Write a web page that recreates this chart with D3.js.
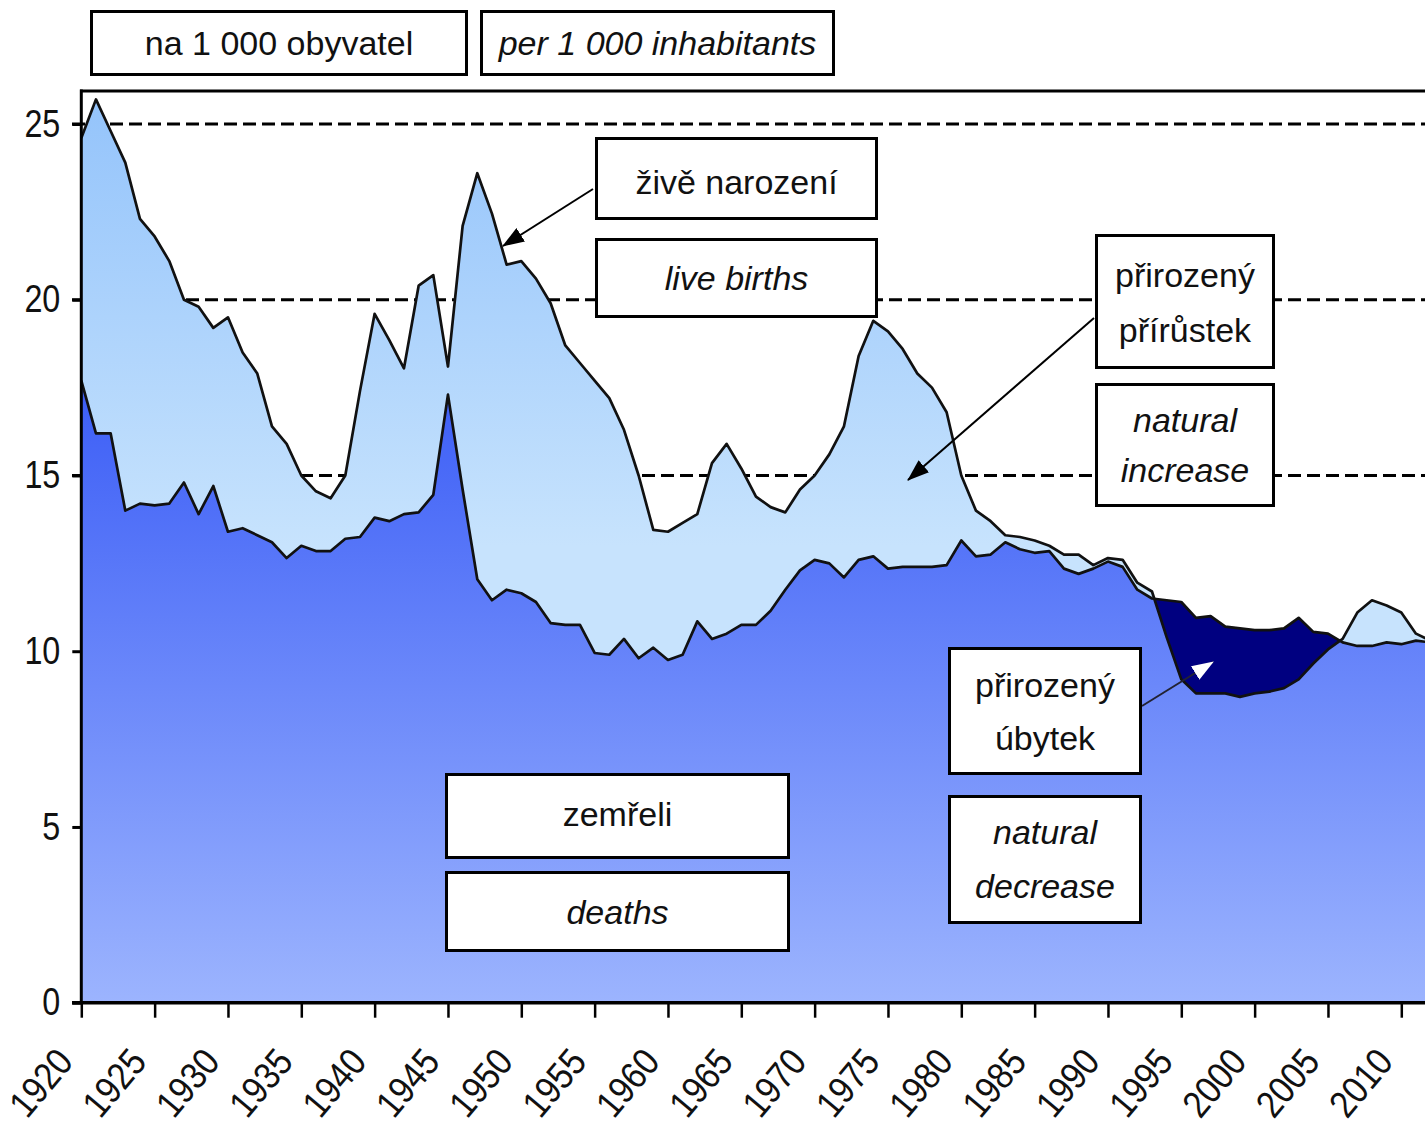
<!DOCTYPE html>
<html>
<head>
<meta charset="utf-8">
<script src="https://cdn.jsdelivr.net/npm/d3@7"></script>
<style>
  body { margin: 0; background: #fff; }
  svg { display: block; }
  .box rect { fill: #fff; stroke: #000; stroke-width: 3; }
  .box text { font-family: "Liberation Sans", Arial, sans-serif; font-size: 34px; fill: #111; text-anchor: middle; }
  .axis text { font-family: "Liberation Sans", Arial, sans-serif; font-size: 38px; fill: #111; }
</style>
</head>
<body>
<script>
// per 1 000 inhabitants, Czech lands
const years = [1920,1921,1922,1923,1924,1925,1926,1927,1928,1929,
  1930,1931,1932,1933,1934,1935,1936,1937,1938,1939,
  1940,1941,1942,1943,1944,1945,1946,1947,1948,1949,
  1950,1951,1952,1953,1954,1955,1956,1957,1958,1959,
  1960,1961,1962,1963,1964,1965,1966,1967,1968,1969,
  1970,1971,1972,1973,1974,1975,1976,1977,1978,1979,
  1980,1981,1982,1983,1984,1985,1986,1987,1988,1989,
  1990,1991,1992,1993,1994,1995,1996,1997,1998,1999,
  2000,2001,2002,2003,2004,2005,2006,2007,2008,2009,
  2010,2011,2012];

const births = [24.6,25.7,24.8,23.9,22.3,21.8,21.1,20.0,19.8,19.2,
  19.5,18.5,17.9,16.4,15.9,15.0,14.55,14.35,15.0,17.4,
  19.6,18.85,18.05,20.4,20.7,18.1,22.1,23.6,22.45,21.0,
  21.1,20.6,19.9,18.7,18.2,17.7,17.2,16.3,15.0,13.45,
  13.4,13.65,13.9,15.35,15.9,15.2,14.4,14.1,13.95,14.6,
  15.0,15.6,16.4,18.4,19.4,19.1,18.6,17.9,17.5,16.8,
  15.0,14.0,13.7,13.3,13.25,13.15,13.0,12.75,12.75,12.45,
  12.65,12.6,11.95,11.7,10.4,9.2,8.8,8.8,8.8,8.7,
  8.8,8.85,8.95,9.2,9.65,10.05,10.35,11.1,11.45,11.3,
  11.1,10.5,10.3];

const deaths = [17.7,16.2,16.2,14.0,14.2,14.15,14.2,14.8,13.9,14.7,
  13.4,13.5,13.3,13.1,12.65,13.0,12.85,12.85,13.2,13.25,
  13.8,13.7,13.9,13.95,14.45,17.3,14.6,12.05,11.45,11.75,
  11.65,11.4,10.8,10.75,10.75,9.95,9.9,10.35,9.8,10.1,
  9.75,9.9,10.85,10.35,10.5,10.75,10.75,11.15,11.75,12.3,
  12.6,12.5,12.1,12.6,12.7,12.35,12.4,12.4,12.4,12.45,
  13.15,12.7,12.75,13.1,12.9,12.8,12.85,12.35,12.2,12.35,
  12.55,12.4,11.75,11.5,11.45,11.4,10.95,11.0,10.7,10.65,
  10.6,10.6,10.65,10.95,10.55,10.5,10.25,10.15,10.15,10.25,
  10.2,10.3,10.25];

const yTicks = [0,5,10,15,20,25];
const xTicks = [1920,1925,1930,1935,1940,1945,1950,1955,1960,1965,1970,1975,1980,1985,1990,1995,2000,2005,2010];
const gridLines = [15,20,25];

// annotation boxes: outer edges and text baselines
const notes = [
  {lines:["na 1 000 obyvatel"], italic:false, x0:90, y0:10, x1:468, y1:76, base:[55]},
  {lines:["per 1 000 inhabitants"], italic:true, x0:480, y0:10, x1:835, y1:76, base:[55]},
  {lines:["živě narození"], italic:false, x0:595, y0:137, x1:878, y1:220, base:[194]},
  {lines:["live births"], italic:true, x0:595, y0:238, x1:878, y1:318, base:[290]},
  {lines:["přirozený","přírůstek"], italic:false, x0:1095, y0:234, x1:1275, y1:369, base:[287,342]},
  {lines:["natural","increase"], italic:true, x0:1095, y0:383, x1:1275, y1:507, base:[432,482]},
  {lines:["přirozený","úbytek"], italic:false, x0:948, y0:647, x1:1142, y1:775, base:[697,750]},
  {lines:["natural","decrease"], italic:true, x0:948, y0:795, x1:1142, y1:924, base:[844,898]},
  {lines:["zemřeli"], italic:false, x0:445, y0:773, x1:790, y1:859, base:[826]},
  {lines:["deaths"], italic:true, x0:445, y0:871, x1:790, y1:952, base:[924]}
];

const arrows = [
  {x1:593, y1:189, x2:503, y2:246, head:"#000"},
  {x1:1094, y1:318, x2:908, y2:480, head:"#000"},
  {x1:1142, y1:706, x2:1213, y2:662, head:"#fff"}
];

const W = 1425, H = 1130;
const svg = d3.select("body").append("svg").attr("width", W).attr("height", H);

const x = d3.scaleLinear().domain([1920, 2010]).range([81.3, 1401.3]);
const y = d3.scaleLinear().domain([0, 25]).range([1002.7, 124]);

const rows = years.map((yr, i) => ({yr: yr, b: births[i], d: deaths[i]}));

const defs = svg.append("defs");
const gB = defs.append("linearGradient").attr("id", "gBirth")
  .attr("gradientUnits", "userSpaceOnUse").attr("x1", 0).attr("x2", 0)
  .attr("y1", y(26)).attr("y2", y(13));
gB.append("stop").attr("offset", "0%").attr("stop-color", "#93c3fb");
gB.append("stop").attr("offset", "100%").attr("stop-color", "#c7e3fd");

const gD = defs.append("linearGradient").attr("id", "gDeath")
  .attr("gradientUnits", "userSpaceOnUse").attr("x1", 0).attr("x2", 0)
  .attr("y1", y(18)).attr("y2", y(0));
gD.append("stop").attr("offset", "0%").attr("stop-color", "#3a5cf6");
gD.append("stop").attr("offset", "100%").attr("stop-color", "#9cb4fe");

const aboveBirths = d3.area().x(d => x(d.yr)).y0(0).y1(d => y(d.b));
defs.append("clipPath").attr("id", "overB")
  .append("path").attr("d", aboveBirths(rows));

arrows.forEach((a, i) => {
  defs.append("marker").attr("id", "head" + i)
    .attr("markerUnits", "userSpaceOnUse")
    .attr("viewBox", "0 0 22 16")
    .attr("markerWidth", 22).attr("markerHeight", 16)
    .attr("refX", 21).attr("refY", 8)
    .attr("orient", "auto")
    .append("path").attr("d", "M0,0L22,8L0,16Z").attr("fill", a.head);
});

// dashed gridlines behind the areas
svg.append("g").selectAll("line").data(gridLines).join("line")
  .attr("x1", 72).attr("x2", W)
  .attr("y1", d => y(d)).attr("y2", d => y(d))
  .attr("stroke", "#000").attr("stroke-width", 3)
  .attr("stroke-dasharray", "13,6");

const areaB = d3.area().x(d => x(d.yr)).y0(y(0)).y1(d => y(d.b));
const areaD = d3.area().x(d => x(d.yr)).y0(y(0)).y1(d => y(d.d));

svg.append("path").attr("d", areaB(rows)).attr("fill", "url(#gBirth)");
svg.append("path").attr("d", areaD(rows)).attr("fill", "url(#gDeath)");
// natural decrease: under deaths, over births
svg.append("path").attr("d", areaD(rows)).attr("fill", "#000080").attr("clip-path", "url(#overB)");

const lineB = d3.line().x(d => x(d.yr)).y(d => y(d.b));
const lineD = d3.line().x(d => x(d.yr)).y(d => y(d.d));
svg.append("path").attr("d", lineD(rows)).attr("fill", "none")
  .attr("stroke", "#111").attr("stroke-width", 2.7).attr("stroke-linejoin", "round");
svg.append("path").attr("d", lineB(rows)).attr("fill", "none")
  .attr("stroke", "#111").attr("stroke-width", 2.7).attr("stroke-linejoin", "round");

// frame
svg.append("line").attr("x1", 80).attr("x2", W).attr("y1", 91).attr("y2", 91)
  .attr("stroke", "#000").attr("stroke-width", 3);
svg.append("line").attr("x1", 81.3).attr("x2", 81.3).attr("y1", 89.5).attr("y2", 1004)
  .attr("stroke", "#000").attr("stroke-width", 3);
svg.append("line").attr("x1", 72).attr("x2", W).attr("y1", 1002.7).attr("y2", 1002.7)
  .attr("stroke", "#000").attr("stroke-width", 3.5);

// y axis
const gy = svg.append("g").attr("class", "axis")
  .attr("transform", "translate(81.3,0)")
  .call(d3.axisLeft(y).tickValues(yTicks).tickSize(9));
gy.select(".domain").remove();
gy.attr("font-size", null).attr("font-family", null);
gy.selectAll(".tick line").attr("stroke", "#000").attr("stroke-width", 3);
gy.selectAll(".tick text")
  .attr("x", 0)
  .attr("transform", "translate(-21,0) scale(0.85,1)");

// x axis
const gx = svg.append("g").attr("class", "axis")
  .attr("transform", "translate(0,1002.7)")
  .call(d3.axisBottom(x).tickValues(xTicks).tickSize(15).tickFormat(d3.format("d")));
gx.select(".domain").remove();
gx.attr("font-size", null).attr("font-family", null);
gx.selectAll(".tick line").attr("stroke", "#000").attr("stroke-width", 2.5);
gx.selectAll(".tick text")
  .attr("x", 0).attr("y", 0).attr("dy", 0)
  .attr("font-size", 35)
  .attr("text-anchor", "end")
  .attr("transform", "translate(-7,60) rotate(-50) scale(0.88,1)");

// arrows
svg.append("g").selectAll("line").data(arrows).join("line")
  .attr("x1", d => d.x1).attr("y1", d => d.y1)
  .attr("x2", d => d.x2).attr("y2", d => d.y2)
  .attr("stroke", (d, i) => i === 2 ? "#223" : "#000")
  .attr("stroke-width", 2)
  .attr("marker-end", (d, i) => `url(#head${i})`);

// annotation boxes
const box = svg.append("g").selectAll("g").data(notes).join("g").attr("class", "box");
box.append("rect")
  .attr("x", d => d.x0 + 1.5).attr("y", d => d.y0 + 1.5)
  .attr("width", d => d.x1 - d.x0 - 3).attr("height", d => d.y1 - d.y0 - 3);
box.each(function(d) {
  d3.select(this).selectAll("text").data(d.lines).join("text")
    .attr("x", (d.x0 + d.x1) / 2)
    .attr("y", (t, i) => d.base[i])
    .attr("font-style", d.italic ? "italic" : "normal")
    .text(t => t);
});
</script>
</body>
</html>
